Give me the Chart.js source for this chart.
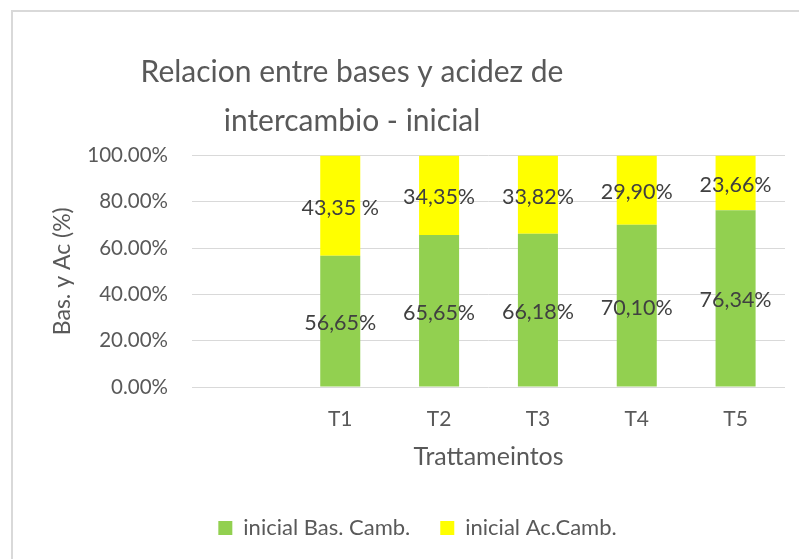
<!DOCTYPE html>
<html><head><meta charset="utf-8">
<script src="https://cdn.jsdelivr.net/npm/chart.js@4/dist/chart.umd.min.js"></script>
<style>html,body{margin:0;padding:0;background:#fff;overflow:hidden}</style>
</head><body>
<canvas id="c" width="799" height="559"></canvas>
<script>
const categories = ['', 'T1', 'T2', 'T3', 'T4', 'T5'];
const basCamb = [null, 56.65, 65.65, 66.18, 70.10, 76.34];
const acCamb = [null, 43.35, 34.35, 33.82, 29.90, 23.66];
const basLabels = ['', '56,65%', '65,65%', '66,18%', '70,10%', '76,34%'];
const acLabels = ['', '43,35 %', '34,35%', '33,82%', '29,90%', '23,66%'];
const yTicks = [0, 20, 40, 60, 80, 100];
const seriesNames = ['inicial Bas. Camb.', 'inicial Ac.Camb.'];
const titleLines = ['Relacion entre bases y acidez de', 'intercambio - inicial'];
const xTitle = 'Trattameintos';
const yTitle = 'Bas. y Ac (%)';

const FONT = 'Lato, "Open Sans", sans-serif';
const TXT = '#595959';

const frame = {
  id: 'frame',
  beforeDraw(chart) {
    const ctx = chart.ctx;
    ctx.save();
    ctx.fillStyle = '#fff';
    ctx.fillRect(0, 0, chart.width, chart.height);
    ctx.strokeStyle = '#d9d9d9';
    ctx.lineWidth = 2;
    ctx.beginPath();
    ctx.moveTo(12, chart.height + 2);
    ctx.lineTo(12, 11);
    ctx.lineTo(chart.width + 2, 11);
    ctx.stroke();
    ctx.restore();
  }
};

const shift = {
  id: 'shift',
  afterLayout(chart) {
    const lg = chart.legend;
    if (lg) {
      const dx = 417.5 - (lg.left + lg.right) / 2;
      lg.left += dx; lg.right += dx;
      lg.top += 10; lg.bottom += 10;
    }
    const tb = chart.titleBlock;
    if (tb) { const dx = 352 - (tb.left + tb.right) / 2; tb.left += dx; tb.right += dx; }
  }
};

const segLabels = {
  id: 'segLabels',
  afterDatasetsDraw(chart) {
    const ctx = chart.ctx;
    const texts = [basLabels, acLabels];
    ctx.save();
    ctx.font = '21.5px ' + FONT;
    ctx.fillStyle = '#404040';
    ctx.textAlign = 'center';
    ctx.textBaseline = 'middle';
    chart.data.datasets.forEach((ds, di) => {
      const meta = chart.getDatasetMeta(di);
      meta.data.forEach((el, i) => {
        if (ds.data[i] == null) return;
        ctx.fillText(texts[di][i], el.x, (el.y + el.base) / 2 + 2);
      });
    });
    ctx.restore();
  }
};

new Chart(document.getElementById('c'), {
  type: 'bar',
  data: {
    labels: categories,
    datasets: [
      { label: seriesNames[0], data: basCamb, backgroundColor: '#92D050', borderWidth: 0 },
      { label: seriesNames[1], data: acCamb, backgroundColor: '#FFFF00', borderWidth: 0 }
    ]
  },
  options: {
    responsive: false,
    animation: false,
    devicePixelRatio: 1,
    layout: { padding: { left: 12, right: 14, top: 0, bottom: 20 } },
    datasets: { bar: { categoryPercentage: 1, barPercentage: 0.405 } },
    plugins: {
      tooltip: { enabled: false },
      title: {
        display: true,
        text: titleLines,
        color: TXT,
        font: { family: FONT, size: 30, weight: 'normal', lineHeight: '49px' },
        padding: { top: 47.5, bottom: 10 }
      },
      legend: {
        position: 'bottom',
        labels: {
          color: TXT,
          font: { family: FONT, size: 22 },
          boxWidth: 14, boxHeight: 14, padding: 30
        }
      }
    },
    scales: {
      x: {
        stacked: true,
        grid: { display: false, drawTicks: false },
        border: { display: false },
        ticks: { color: TXT, font: { family: FONT, size: 21 }, padding: 19.4 },
        title: { display: true, text: xTitle, color: TXT, font: { family: FONT, size: 25 }, padding: { top: 0, bottom: 5 } },
        afterFit(s) { s.height = 90; }
      },
      y: {
        stacked: true,
        min: 0, max: 100,
        afterBuildTicks(s) { s.ticks = yTicks.map(v => ({ value: v })); },
        grid: { color: '#d9d9d9', lineWidth: 1, drawTicks: false },
        border: { display: false },
        ticks: { color: TXT, font: { family: FONT, size: 20.5 }, padding: 24, callback: v => v.toFixed(2) + '%' },
        title: { display: true, text: yTitle, color: TXT, font: { family: FONT, size: 23 }, padding: { top: 37.2, bottom: 0 } },
        afterFit(s) { s.width = 180; }
      }
    }
  },
  plugins: [frame, shift, segLabels]
});
</script>
</body></html>
